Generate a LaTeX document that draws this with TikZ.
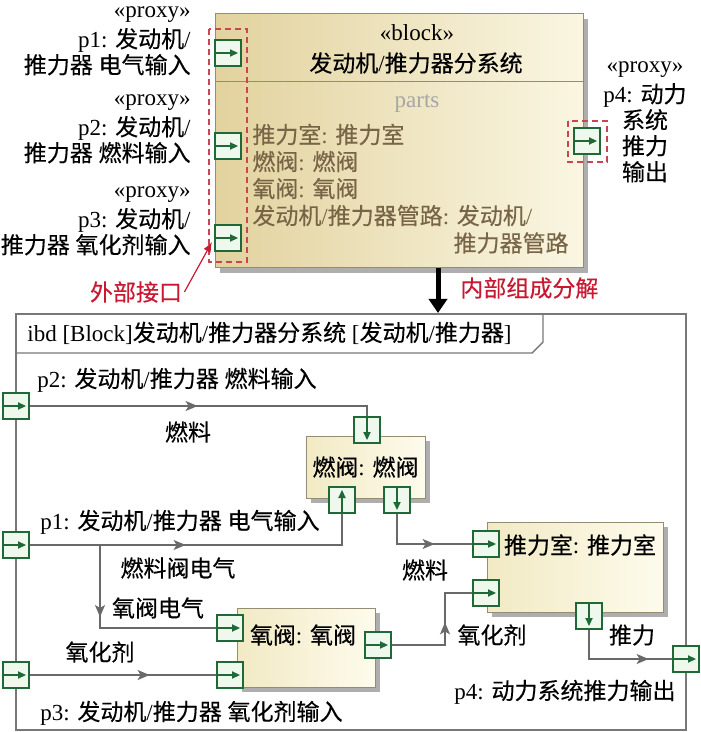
\documentclass[tikz,border=0pt]{standalone}
\usepackage{fontspec}
\setmainfont{Liberation Serif}
\newfontfamily\cjkfont[FakeBold=0.3]{Noto Sans CJK SC}
\usetikzlibrary{arrows.meta,shadows,decorations.markings}

% Han characters are set in the CJK family
\XeTeXinterchartokenstate=1
\chardef\hanclass=7
\newcount\hancode
\hancode="4E00
\loop
  \XeTeXcharclass\hancode=\hanclass
  \ifnum\hancode<"9FFF \advance\hancode by 1
\repeat
\XeTeXinterchartoks 0 \hanclass={\cjkfont}
\XeTeXinterchartoks 4095 \hanclass={\cjkfont}
\XeTeXinterchartoks \hanclass 0={\rmfamily}
\XeTeXinterchartoks \hanclass 4095={\rmfamily}

\definecolor{portgreen}{RGB}{30,105,55}
\definecolor{portfill}{RGB}{238,248,236}
\definecolor{wiregray}{RGB}{105,105,105}
\definecolor{framegray}{RGB}{120,120,120}
\definecolor{noteRed}{RGB}{200,25,50}
\definecolor{dashRed}{RGB}{200,70,80}
\definecolor{partsBrown}{RGB}{120,100,70}
\definecolor{blockTan}{RGB}{226,210,158}
\definecolor{blockTanLight}{RGB}{250,246,226}
\definecolor{partCream}{RGB}{242,234,196}
\definecolor{partCreamLight}{RGB}{253,251,236}
\definecolor{blockEdge}{RGB}{150,140,115}

\tikzset{
  port/.style={draw=portgreen, fill=portfill, line width=0.6pt, minimum size=13pt, inner sep=0pt},
  portarrow/.style={draw=portgreen, line width=0.6pt, -{Triangle[length=4pt,width=3.6pt]}},
  port right/.style={port, path picture={\draw[portarrow] (path picture bounding box.west) -- ([xshift=-1.5pt]path picture bounding box.east);}},
  port down/.style={port, path picture={\draw[portarrow] (path picture bounding box.north) -- ([yshift=1.5pt]path picture bounding box.south);}},
  port up/.style={port, path picture={\draw[portarrow] (path picture bounding box.south) -- ([yshift=-1.5pt]path picture bounding box.north);}},
  part/.style={draw=blockEdge, line width=0.5pt, left color=partCream, right color=partCreamLight,
    drop shadow={shadow xshift=2.5pt, shadow yshift=-2.5pt, fill=black!45, opacity=0.7}},
  wire/.style={draw=wiregray, line width=0.75pt},
  flowmark/.style={postaction={decorate, decoration={markings,
    mark=at position #1 with {\arrow{Stealth[length=6pt,width=5pt,inset=1.5pt]}}}}},
  extbox/.style={draw=dashRed, line width=0.6pt, dash pattern=on 3pt off 2pt},
}

\begin{document}
\begin{tikzpicture}[x=0.5pt, y=-0.5pt, every node/.append style={font=\fontsize{11.5}{13}\selectfont, inner sep=1pt}]
  \useasboundingbox (0,0) rectangle (700,732);
  % block definition
  \node[draw=blockEdge, line width=0.5pt, left color=blockTan, right color=blockTanLight,
        drop shadow={shadow xshift=2.5pt, shadow yshift=-2.5pt, fill=black!45, opacity=0.7},
        minimum width=184pt, minimum height=127pt] (blk) at (399,141) {};
  \coordinate (sep) at (0,82);
  \draw[blockEdge, line width=0.5pt] (blk.west |- sep) -- (blk.east |- sep);
  \node (blkstereo) at (417,33) {«block»};
  \node (blkname) at (416,63) {发动机/推力器分系统};
  \node[text=gray!70] (partshead) at (417,103) {parts};
  \node[anchor=west, align=left, text=partsBrown, font=\fontsize{11.5}{13.5}\selectfont] (partslist) at (250,175)
    {推力室: 推力室\\燃阀: 燃阀\\氧阀: 氧阀\\发动机/推力器管路: 发动机/};
  \node[anchor=east, text=partsBrown] (partstail) at (571,243) {推力器管路};
  \node[port right] (bp1) at (228,53) {};
  \node[port right] (bp2) at (228,146) {};
  \node[port right] (bp3) at (228,238) {};
  \node[port right] (bp4) at (587,141) {};
  \draw[extbox] (209,29) rectangle (247,262);
  \draw[extbox] (568,121) rectangle (607,162);
  \node[anchor=east, align=right] (bp1lbl) at (193,41) {«proxy»\\[2pt]p1: 发动机/\\推力器 电气输入};
  \node[anchor=east, align=right] (bp2lbl) at (193,129) {«proxy»\\[2pt]p2: 发动机/\\推力器 燃料输入};
  \node[anchor=east, align=right] (bp3lbl) at (193,221) {«proxy»\\[2pt]p3: 发动机/\\推力器 氧化剂输入};
  \node[align=center] (bp4lbl) at (645,122) {«proxy»\\[2pt]p4: 动力\\系统\\推力\\输出};
  % notes
  \node[text=noteRed] (extlbl) at (136,292) {外部接口};
  \coordinate (exttip) at (212,242);
  \draw[noteRed, line width=0.6pt, -{Latex[length=5pt,width=4pt]}] (extlbl.east) -- (exttip);
  \coordinate (dectip) at (438,313);
  \draw[line width=2.5pt, -{Triangle[length=7pt,width=9pt]}] (blk.south -| dectip) -- (dectip);
  \node[text=noteRed, anchor=west] (declbl) at (458,288) {内部组成分解};
  % internal block diagram
  \draw[framegray, line width=0.7pt] (16,314) rectangle (686,730);
  \draw[framegray, line width=0.7pt] (16,353) -- (532,353) -- (543,342) -- (543,314);
  \node[anchor=west] (ibdtitle) at (25,333) {ibd [Block]发动机/推力器分系统 [发动机/推力器]};
  \node[part, minimum width=59.5pt, minimum height=31pt] (vf) at (365.5,467) {燃阀: 燃阀};
  \node[part, minimum width=69pt, minimum height=39.5pt] (ov) at (306,647.5) {};
  \node (ovname) at (303,635) {氧阀: 氧阀};
  \node[part, minimum width=88pt, minimum height=45pt] (tc) at (575,567) {};
  \node (tcname) at (580,545) {推力室: 推力室};
  \coordinate (br) at (100,545);
  \coordinate (oxbend) at (445,645);
  \node[port right] (ip2) at (16,406) {};
  \node[port right] (ip1) at (16,545) {};
  \node[port right] (ip3) at (16,675) {};
  \node[port right] (ip4) at (686,659) {};
  \node[port down] (vfin) at (367,430) {};
  \node[port up] (vfelec) at (342,500) {};
  \node[port down] (vfout) at (397,500) {};
  \node[port right] (ovelec) at (230,628) {};
  \node[port right] (ovox) at (230,675) {};
  \node[port right] (ovout) at (378,645) {};
  \node[port right] (tcfuel) at (486,544) {};
  \node[port right] (tcox) at (486,593) {};
  \node[port down] (tcthr) at (589,616) {};
  \draw[wire, flowmark=84pt] (ip2.east) -| (vfin.north);
  \draw[wire, flowmark=78pt] (ip1.east) -| (vfelec.south);
  \draw[wire, flowmark=36pt] (br) |- (ovelec.west);
  \draw[wire, flowmark=60pt] (ip3.east) -- (ovox.west);
  \draw[wire, flowmark=38pt] (ovout.east) -- (oxbend) |- (tcox.west);
  \draw[wire, flowmark=34pt] (vfout.south) |- (tcfuel.west);
  \draw[wire, flowmark=44.5pt] (tcthr.south) |- (ip4.west);
  \node[anchor=west] (ip2lbl) at (35,380) {p2: 发动机/推力器 燃料输入};
  \node (fuel1) at (188,432) {燃料};
  \node[anchor=west] (ip1lbl) at (38,522) {p1: 发动机/推力器 电气输入};
  \node (fvelec) at (178,568) {燃料阀电气};
  \node (ovelecl) at (158,608) {氧阀电气};
  \node (ox1) at (100,652) {氧化剂};
  \node[anchor=west] (ip3lbl) at (38,713) {p3: 发动机/推力器 氧化剂输入};
  \node (fuel2) at (425,570) {燃料};
  \node (ox2) at (492,635) {氧化剂};
  \node (thrust) at (632,635) {推力};
  \node (ip4lbl) at (565,692) {p4: 动力系统推力输出};
\end{tikzpicture}
\end{document}
